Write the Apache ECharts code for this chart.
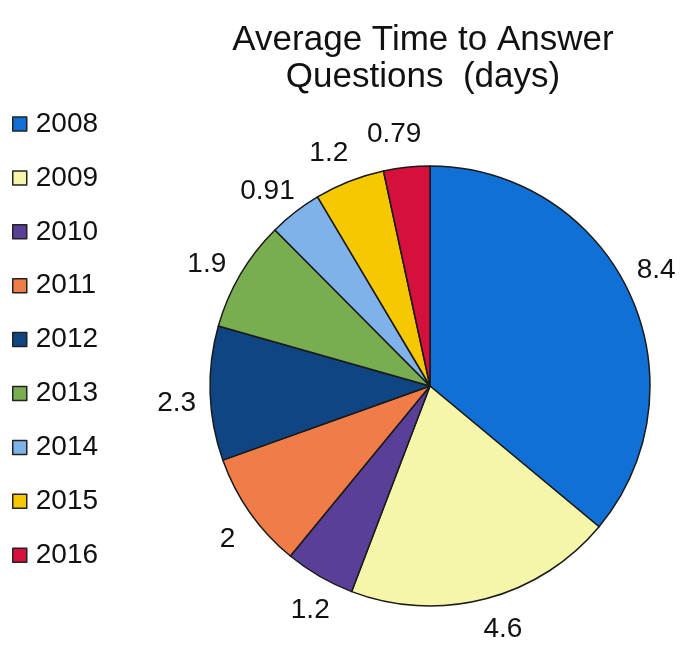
<!DOCTYPE html>
<html><head><meta charset="utf-8">
<script src="https://cdn.jsdelivr.net/npm/echarts@6/dist/echarts.min.js"></script>
<style>html,body{margin:0;padding:0;background:#fff}#c{width:695px;height:648px}</style>
</head><body><div id="c"></div>
<script>
const categories = ['2008','2009','2010','2011','2012','2013','2014','2015','2016'];
const values = [8.4, 4.6, 1.2, 2, 2.3, 1.9, 0.91, 1.2, 0.79];
const colors = ['#1170d6','#f6f6aa','#5a3f98','#f07d47','#0e4582','#78ad50','#80b2ea','#f6c800','#d6103c'];
const titleText = 'Average Time to Answer\nQuestions  (days)';

const font = 'Liberation Sans, Arial, sans-serif';
const chart = echarts.init(document.getElementById('c'));
chart.setOption({
  animation: false,
  backgroundColor: '#fff',
  title: {
    text: titleText, left: 418, top: 17, textAlign: 'center',
    textStyle: { fontFamily: font, fontSize: 35, fontWeight: 'normal', color: '#111', lineHeight: 37 }
  },
  legend: {
    orient: 'vertical', left: 7, top: 105, itemGap: 25.9,
    icon: 'rect', itemWidth: 14, itemHeight: 14,
    itemStyle: { borderColor: '#222', borderWidth: 1.5 },
    textStyle: { fontFamily: font, fontSize: 28, color: '#111', lineHeight: 28, padding: [0,0,0,4] },
    data: categories
  },
  series: [{
    type: 'pie', center: [430, 386], radius: 220, startAngle: 90, clockwise: true,
    data: categories.map((c, i) => ({ name: c, value: values[i], itemStyle: { color: colors[i] } })),
    itemStyle: { borderColor: '#1a1a1a', borderWidth: 1.5 },
    label: { show: false },
    labelLine: { show: false },
    emphasis: { disabled: true }
  }, {
    // transparent ring used only to place the value labels just outside the pie
    type: 'pie', center: [430, 386], radius: [220, 282], startAngle: 92, clockwise: true,
    silent: true, legendHoverLink: false,
    data: categories.map((c, i) => ({ name: c, value: values[i] })),
    itemStyle: { color: 'rgba(0,0,0,0)', borderWidth: 0 },
    label: { show: true, position: 'inside', formatter: '{c}', fontFamily: font, fontSize: 28, color: '#111' },
    labelLine: { show: false },
    emphasis: { disabled: true }
  }]
});
</script></body></html>
